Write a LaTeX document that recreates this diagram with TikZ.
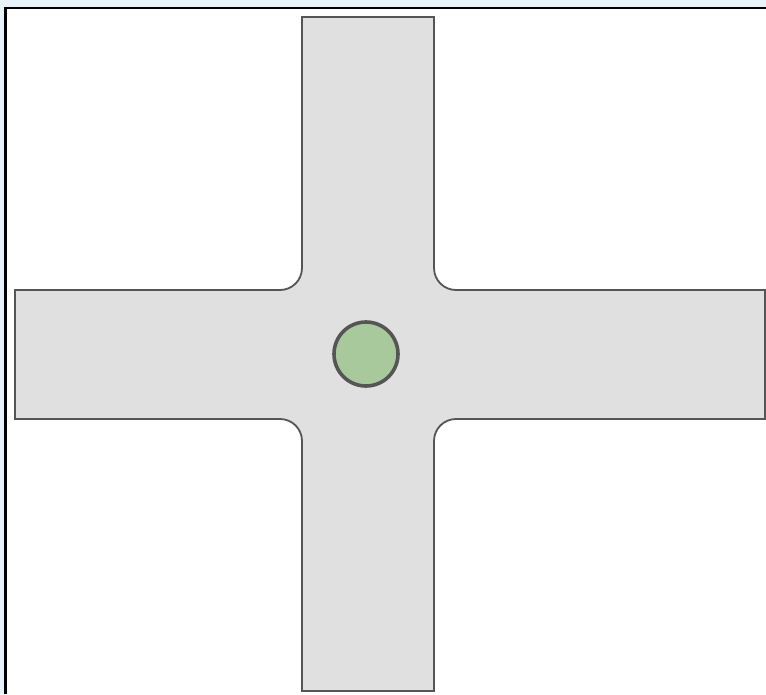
\documentclass[tikz,border=0pt]{standalone}
\definecolor{bgblue}{HTML}{E8F2F9}
\definecolor{road}{HTML}{E0E0E0}
\definecolor{edge}{HTML}{555555}
\definecolor{hubgreen}{HTML}{A8C99B}
\begin{document}
\begin{tikzpicture}[x=1pt,y=-1pt,
  roadshape/.style={fill=road,draw=edge,line width=1.8pt,line join=miter},
  hubstyle/.style={circle,fill=hubgreen,draw=edge,line width=3.6pt,minimum size=64pt,inner sep=0pt}]
\useasboundingbox (0,0) rectangle (766,694);
\fill[bgblue] (0,0) rectangle (766,694);
\fill[white] (5,8) rectangle (766,694);
\draw[black,line width=2.2pt] (5.5,694) -- (5.5,8) -- (766,8);
\draw[roadshape] (302,17) -- (434,17) -- (434,268)
  .. controls (434,280.15) and (443.85,290) .. (456,290)
  -- (765,290) -- (765,419) -- (456,419)
  .. controls (443.85,419) and (434,428.85) .. (434,441)
  -- (434,691) -- (302,691) -- (302,441)
  .. controls (302,428.85) and (292.15,419) .. (280,419)
  -- (15,419) -- (15,290) -- (280,290)
  .. controls (292.15,290) and (302,280.15) .. (302,268)
  -- cycle;
\node[hubstyle] (hub) at (366,354) {};
\end{tikzpicture}
\end{document}
